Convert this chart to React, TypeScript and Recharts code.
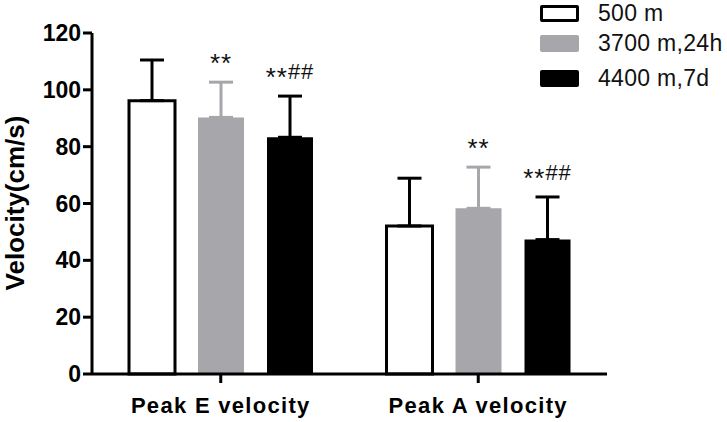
import { Bar, BarChart, ErrorBar, LabelList, XAxis, YAxis } from "recharts"

const categories = ["Peak E velocity", "Peak A velocity"]
const seriesNames = ["500 m", "3700 m,24h", "4400 m,7d"]

const lowAlt = [96.2, 52.1]
const lowAltErr = [14.3, 16.8]
const midAlt = [90.3, 58.3]
const midAltErr = [12.4, 14.5]
const highAlt = [83.3, 47.3]
const highAltErr = [14.5, 15.0]

const midMarks = ["**", "**"]
const highMarks = ["**##", "**##"]

const yTicks = [0, 20, 40, 60, 80, 100, 120]

const GRAY = "#a7a7ab"
const FONT = "Arial, 'Liberation Sans', sans-serif"

const data = categories.map((name, i) => ({
  name,
  low: lowAlt[i],
  lowErr: [0, lowAltErr[i]],
  mid: midAlt[i],
  midErr: [0, midAltErr[i]],
  high: highAlt[i],
  highErr: [0, highAltErr[i]],
}))

// significance marks above the error bar cap
function markLabel(marks: string[], errs: number[]) {
  return (props: any) => {
    const vb = props.viewBox && props.viewBox.width != null ? props.viewBox : props
    const { x, y, width, height } = vb
    const idx = props.index
    const pxPerUnit = height / props.value
    const errTop = y - errs[idx] * pxPerUnit
    const stars = marks[idx].replace(/#/g, "")
    const hashes = marks[idx].replace(/\*/g, "")
    return (
      <text
        x={x + width / 2}
        y={errTop - 10}
        textAnchor="middle"
        fontFamily={FONT}
        letterSpacing={1}
        fill="#111"
      >
        <tspan fontSize={26}>{stars}</tspan>
        {hashes && (
          <tspan fontSize={22} dy={-7}>
            {hashes}
          </tspan>
        )}
      </text>
    )
  }
}

const yLabel = () => (
  <text
    x={0}
    y={0}
    transform="translate(24 203) rotate(-90)"
    textAnchor="middle"
    fontFamily={FONT}
    fontWeight="bold"
    fontSize={26}
    fill="#000"
  >
    Velocity(cm/s)
  </text>
)

const legendRows = [
  { name: seriesNames[0], fill: "#fff", border: "3px solid #000", top: 5 },
  { name: seriesNames[1], fill: GRAY, border: "none", top: 35 },
  { name: seriesNames[2], fill: "#000", border: "none", top: 70 },
]

export default function App() {
  return (
    <div style={{ position: "absolute", left: 0, top: 0, width: 727, height: 422, background: "#fff" }}>
      <BarChart
        width={727}
        height={422}
        data={data}
        margin={{ top: 33, right: 120, bottom: 0, left: 0 }}
        barSize={46}
        barGap={23}
      >
        <XAxis
          dataKey="name"
          height={48}
          axisLine={{ stroke: "#000", strokeWidth: 3 }}
          tickLine={{ stroke: "#000", strokeWidth: 3 }}
          tickSize={9}
          tick={{ fontFamily: FONT, fontWeight: "bold", fontSize: 22, fill: "#000", letterSpacing: 1.3, dy: 12 }}
        />
        <YAxis
          width={92}
          domain={[0, 120]}
          ticks={yTicks}
          interval={0}
          axisLine={{ stroke: "#000", strokeWidth: 3 }}
          tickLine={{ stroke: "#000", strokeWidth: 3 }}
          tickSize={9}
          tickMargin={2}
          tick={{ fontFamily: FONT, fontWeight: "bold", fontSize: 23, fill: "#000" }}
          label={yLabel}
        />
        <Bar dataKey="low" name={seriesNames[0]} fill="#fff" stroke="#000" strokeWidth={3} isAnimationActive={false}>
          <ErrorBar dataKey="lowErr" direction="y" width={12} stroke="#000" strokeWidth={3} />
        </Bar>
        <Bar dataKey="mid" name={seriesNames[1]} fill={GRAY} isAnimationActive={false}>
          <ErrorBar dataKey="midErr" direction="y" width={12} stroke={GRAY} strokeWidth={3} />
          <LabelList dataKey="mid" content={markLabel(midMarks, midAltErr)} />
        </Bar>
        <Bar dataKey="high" name={seriesNames[2]} fill="#000" isAnimationActive={false}>
          <ErrorBar dataKey="highErr" direction="y" width={12} stroke="#000" strokeWidth={3} />
          <LabelList dataKey="high" content={markLabel(highMarks, highAltErr)} />
        </Bar>
      </BarChart>
      {legendRows.map((r) => (
        <div
          key={r.name}
          style={{ position: "absolute", left: 540, top: r.top, display: "flex", alignItems: "center", height: 17 }}
        >
          <div
            style={{
              width: 39,
              height: 17,
              boxSizing: "border-box",
              background: r.fill,
              border: r.border,
              borderRadius: 2,
            }}
          />
          <span
            style={{
              marginLeft: 19,
              fontFamily: FONT,
              fontSize: 23,
              letterSpacing: 0.3,
              color: "#111",
              whiteSpace: "nowrap",
            }}
          >
            {r.name}
          </span>
        </div>
      ))}
    </div>
  )
}
